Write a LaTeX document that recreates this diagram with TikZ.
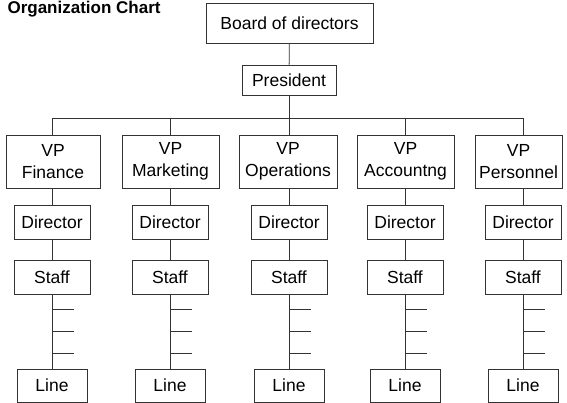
\documentclass[tikz,border=0pt]{standalone}
\usepackage{fontspec}
\setmainfont{Liberation Sans}
\usetikzlibrary{positioning}

\begin{document}
\begin{tikzpicture}[x=1pt, y=1pt,
    box/.style={draw=black!80, line width=0.8pt, inner sep=0pt, align=center,
        font=\fontsize{17.5}{21.5}\selectfont},
    vpbox/.style={box, minimum height=53},
    smallbox/.style={box, minimum width=76, minimum height=34},
    linebox/.style={box, minimum width=70, minimum height=33},
    link/.style={draw=black!80, line width=0.8pt}]
            \useasboundingbox (0,0) rectangle (567,-403);
            \node[anchor=base west, font=\fontsize{17}{20}\selectfont\bfseries] (title) at (4,-14) {Organization Chart};
            \node[box, minimum width=167, minimum height=40] (board) at (289.5,-23) {Board of directors};
            \node[box, minimum width=94, minimum height=30] (president) at (289,-80) {President};

            \coordinate (bus) at (289,-118);
            \coordinate (bus1) at (52,-118);
            \coordinate (bus2) at (170,-118);
            \coordinate (bus3) at (289,-118);
            \coordinate (bus4) at (405,-118);
            \coordinate (bus5) at (523,-118);

            \node[vpbox, minimum width=94] (vp1) at (53,-161.5) {VP\\Finance};
            \node[vpbox, minimum width=97] (vp2) at (170.5,-161.5) {VP\\Marketing};
            \node[vpbox, minimum width=98] (vp3) at (288,-161.5) {VP\\Operations};
            \node[vpbox, minimum width=97] (vp4) at (405.5,-161.5) {VP\\Accountng};
            \node[vpbox, minimum width=87] (vp5) at (518.5,-161.5) {VP\\Personnel};

            \node[smallbox] (director1) at (52,-222) {Director};
            \node[smallbox] (director2) at (170,-222) {Director};
            \node[smallbox] (director3) at (289,-222) {Director};
            \node[smallbox] (director4) at (405,-222) {Director};
            \node[smallbox] (director5) at (523,-222) {Director};

            \node[smallbox] (staff1) at (52,-277.5) {Staff};
            \node[smallbox] (staff2) at (170,-277.5) {Staff};
            \node[smallbox] (staff3) at (289,-277.5) {Staff};
            \node[smallbox] (staff4) at (405,-277.5) {Staff};
            \node[smallbox] (staff5) at (523,-277.5) {Staff};

            \node[linebox] (line1) at (52,-385.5) {Line};
            \node[linebox] (line2) at (170,-385.5) {Line};
            \node[linebox] (line3) at (289,-385.5) {Line};
            \node[linebox] (line4) at (405,-385.5) {Line};
            \node[linebox] (line5) at (523,-385.5) {Line};

            \draw[link] (board) -- (president);
            \draw[link] (president) -- (bus);
            \draw[link] (bus1) -- (bus5);
            \draw[link] (bus1) -- (bus1 |- vp1.north);
            \draw[link] (bus2) -- (bus2 |- vp2.north);
            \draw[link] (bus3) -- (bus3 |- vp3.north);
            \draw[link] (bus4) -- (bus4 |- vp4.north);
            \draw[link] (bus5) -- (bus5 |- vp5.north);
            \draw[link] (vp1.south -| director1) -- (director1);
            \draw[link] (vp2.south -| director2) -- (director2);
            \draw[link] (vp3.south -| director3) -- (director3);
            \draw[link] (vp4.south -| director4) -- (director4);
            \draw[link] (vp5.south -| director5) -- (director5);
            \draw[link] (director1) -- (staff1);
            \draw[link] (director2) -- (staff2);
            \draw[link] (director3) -- (staff3);
            \draw[link] (director4) -- (staff4);
            \draw[link] (director5) -- (staff5);
            \draw[link] (staff1) -- (line1);
            \draw[link] (staff2) -- (line2);
            \draw[link] (staff3) -- (line3);
            \draw[link] (staff4) -- (line4);
            \draw[link] (staff5) -- (line5);

            % ticks on the staff line
            \draw[link] (52,-309) -- ++(22,0) (52,-331.5) -- ++(22,0) (52,-353.5) -- ++(22,0);
            \draw[link] (170,-309) -- ++(22,0) (170,-331.5) -- ++(22,0) (170,-353.5) -- ++(22,0);
            \draw[link] (289,-309) -- ++(22,0) (289,-331.5) -- ++(22,0) (289,-353.5) -- ++(22,0);
            \draw[link] (405,-309) -- ++(22,0) (405,-331.5) -- ++(22,0) (405,-353.5) -- ++(22,0);
            \draw[link] (523,-309) -- ++(22,0) (523,-331.5) -- ++(22,0) (523,-353.5) -- ++(22,0);
\end{tikzpicture}
\end{document}
